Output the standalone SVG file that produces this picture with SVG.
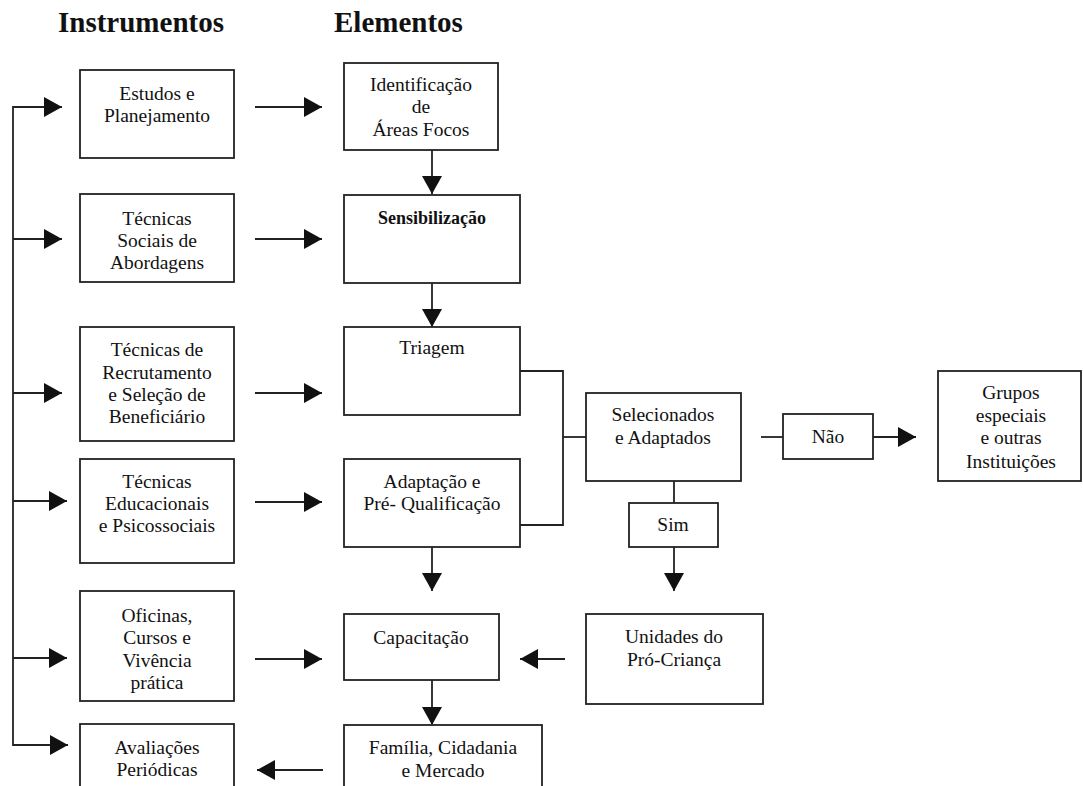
<svg xmlns="http://www.w3.org/2000/svg" width="1083" height="786" viewBox="0 0 1083 786">
<style>
.box{fill:#fff;stroke:#222;stroke-width:1.8}
.t{font-family:"Liberation Serif","Times New Roman",serif;font-size:19.5px;fill:#111;text-anchor:middle}
.b{font-family:"Liberation Serif","Times New Roman",serif;font-size:18px;font-weight:bold;fill:#111;text-anchor:middle}
.h{font-family:"Liberation Serif","Times New Roman",serif;font-size:29px;font-weight:bold;fill:#111}
.ln{fill:none;stroke:#222;stroke-width:1.8}
.ar{fill:none;stroke:#222;stroke-width:1.8;marker-end:url(#ah)}
</style>
<defs>
<marker id="ah" markerUnits="userSpaceOnUse" markerWidth="19" markerHeight="20" refX="18" refY="10" orient="auto">
<path d="M0,0 L18,10 L0,20 Z" fill="#111"/>
</marker>
</defs>
<rect width="1083" height="786" fill="#fff"/>
<text class="h" x="58" y="32">Instrumentos</text>
<text class="h" x="334" y="32">Elementos</text>

<g id="connectors">
<line class="ln" x1="13" y1="106" x2="13" y2="746"/>
<line class="ar" x1="13" y1="107" x2="62" y2="107"/>
<line class="ar" x1="13" y1="239" x2="62" y2="239"/>
<line class="ar" x1="13" y1="393" x2="62" y2="393"/>
<line class="ar" x1="13" y1="501" x2="67" y2="501"/>
<line class="ar" x1="13" y1="658" x2="67" y2="658"/>
<line class="ar" x1="13" y1="745" x2="68" y2="745"/>
<line class="ar" x1="255" y1="107" x2="322" y2="107"/>
<line class="ar" x1="255" y1="239" x2="322" y2="239"/>
<line class="ar" x1="255" y1="393" x2="322" y2="393"/>
<line class="ar" x1="255" y1="502" x2="322" y2="502"/>
<line class="ar" x1="255" y1="659" x2="322" y2="659"/>
<line class="ar" x1="323" y1="770" x2="257" y2="770"/>
<line class="ar" x1="432" y1="150" x2="432" y2="194"/>
<line class="ar" x1="432" y1="283" x2="432" y2="327"/>
<line class="ar" x1="432" y1="547" x2="432" y2="591"/>
<line class="ar" x1="432" y1="680" x2="432" y2="725"/>
<polyline class="ln" points="520,371 563,371 563,525 520,525"/>
<line class="ln" x1="563" y1="437" x2="586" y2="437"/>
<line class="ln" x1="674" y1="481" x2="674" y2="503"/>
<line class="ar" x1="674" y1="547" x2="674" y2="591"/>
<line class="ln" x1="761" y1="437" x2="783" y2="437"/>
<line class="ar" x1="873" y1="437" x2="916" y2="437"/>
<line class="ar" x1="565" y1="659" x2="520" y2="659"/>
</g>

<g id="estudos"><rect class="box" x="80" y="70" width="154" height="88"/>
<text class="t" x="157" y="100">Estudos e</text><text class="t" x="157" y="122">Planejamento</text></g>
<g id="tecnicas-sociais"><rect class="box" x="80" y="194" width="154" height="88"/>
<text class="t" x="157" y="225">Técnicas</text><text class="t" x="157" y="247">Sociais de</text><text class="t" x="157" y="269">Abordagens</text></g>
<g id="tecnicas-recrutamento"><rect class="box" x="80" y="327" width="154" height="114"/>
<text class="t" x="157" y="356">Técnicas de</text><text class="t" x="157" y="379">Recrutamento</text><text class="t" x="157" y="401">e Seleção de</text><text class="t" x="157" y="423">Beneficiário</text></g>
<g id="tecnicas-educacionais"><rect class="box" x="80" y="459" width="154" height="104"/>
<text class="t" x="157" y="488">Técnicas</text><text class="t" x="157" y="510">Educacionais</text><text class="t" x="157" y="532">e Psicossociais</text></g>
<g id="oficinas"><rect class="box" x="80" y="591" width="154" height="110"/>
<text class="t" x="157" y="622">Oficinas,</text><text class="t" x="157" y="644">Cursos e</text><text class="t" x="157" y="667">Vivência</text><text class="t" x="157" y="689">prática</text></g>
<g id="avaliacoes"><rect class="box" x="80" y="724" width="154" height="80"/>
<text class="t" x="157" y="754">Avaliações</text><text class="t" x="157" y="776">Periódicas</text></g>

<g id="identificacao"><rect class="box" x="344" y="63" width="154" height="87"/>
<text class="t" x="421" y="91">Identificação</text><text class="t" x="421" y="113">de</text><text class="t" x="421" y="136">Áreas Focos</text></g>
<g id="sensibilizacao"><rect class="box" x="344" y="195" width="176" height="88"/>
<text class="b" x="432" y="224">Sensibilização</text></g>
<g id="triagem"><rect class="box" x="344" y="327" width="176" height="88"/>
<text class="t" x="432" y="354">Triagem</text></g>
<g id="adaptacao"><rect class="box" x="344" y="459" width="176" height="88"/>
<text class="t" x="432" y="488">Adaptação e</text><text class="t" x="432" y="510">Pré- Qualificação</text></g>
<g id="capacitacao"><rect class="box" x="344" y="614" width="155" height="66"/>
<text class="t" x="421" y="644">Capacitação</text></g>
<g id="familia"><rect class="box" x="344" y="725" width="198" height="80"/>
<text class="t" x="443" y="754">Família, Cidadania</text><text class="t" x="443" y="777">e Mercado</text></g>

<g id="selecionados"><rect class="box" x="586" y="393" width="155" height="88"/>
<text class="t" x="663" y="421">Selecionados</text><text class="t" x="663" y="444">e Adaptados</text></g>
<g id="sim"><rect class="box" x="629" y="503" width="89" height="44"/>
<text class="t" x="673" y="531">Sim</text></g>
<g id="nao"><rect class="box" x="783" y="414" width="90" height="45"/>
<text class="t" x="828" y="443">Não</text></g>
<g id="grupos"><rect class="box" x="938" y="371" width="143" height="110"/>
<text class="t" x="1011" y="399">Grupos</text><text class="t" x="1011" y="422">especiais</text><text class="t" x="1011" y="444">e outras</text><text class="t" x="1011" y="468">Instituições</text></g>
<g id="unidades"><rect class="box" x="586" y="614" width="177" height="90"/>
<text class="t" x="674" y="643">Unidades do</text><text class="t" x="674" y="666">Pró-Criança</text></g>
</svg>
